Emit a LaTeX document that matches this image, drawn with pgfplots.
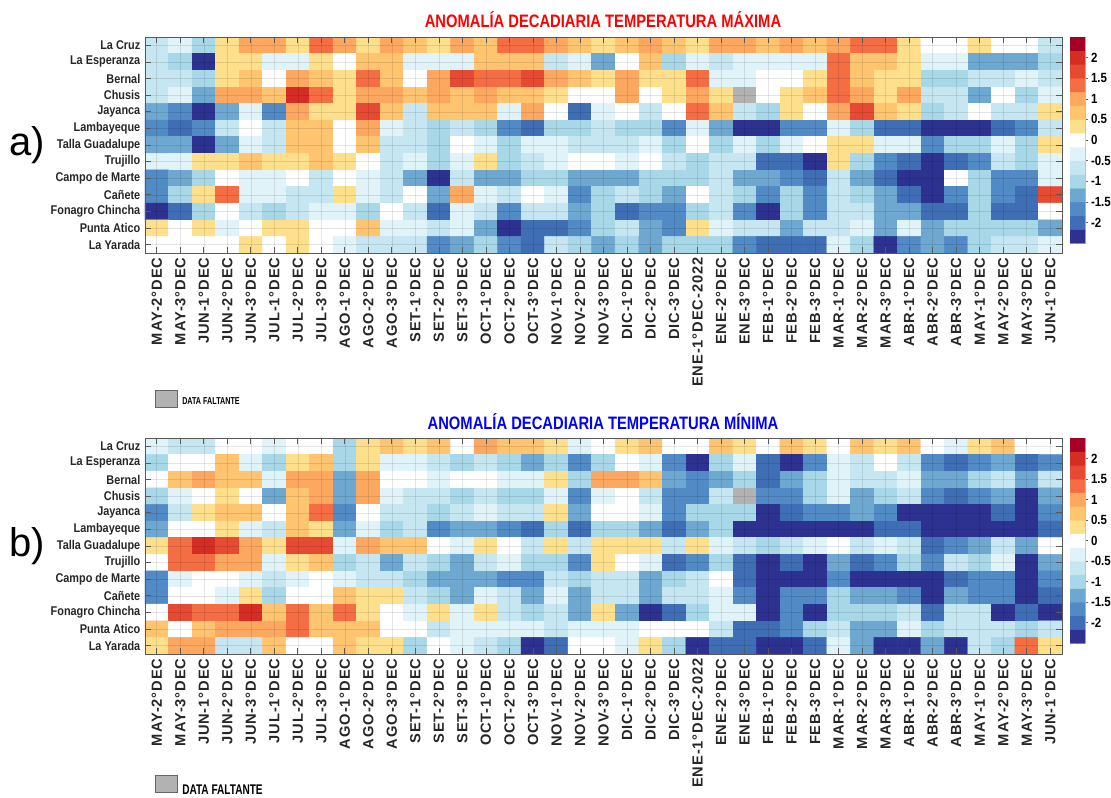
\documentclass[border=0pt]{standalone}
\usepackage{fontspec}
\setmainfont{Liberation Sans}
\newfontfamily\narrowfont[FakeStretch=0.86]{Liberation Sans}
\newfontfamily\titlefont[FakeStretch=0.82]{Liberation Sans}
\newfontfamily\tickfont[LetterSpace=6]{Liberation Sans}
\newfontfamily\legfont[FakeStretch=0.72]{Liberation Sans}
\usepackage{pgfplots}
\pgfplotsset{compat=1.18}
\usepackage{pgfplotstable}

% 15 anomaly classes of 1/3 degC (-2.5 .. 2.5) + grey for missing data (index 15)
\pgfplotsset{
  colormap={anom}{rgb255=(45,50,145) rgb255=(64,110,181) rgb255=(82,138,197) rgb255=(110,168,208) rgb255=(168,215,232) rgb255=(198,230,242) rgb255=(224,243,248) rgb255=(255,255,255) rgb255=(254,224,140) rgb255=(254,196,112) rgb255=(253,168,96) rgb255=(244,109,67) rgb255=(231,74,51) rgb255=(213,44,36) rgb255=(165,0,38) rgb255=(178,178,178)},
}

% Anomalies (degC), one line per station (La Cruz ... La Yarada), 39 dekads each; 99 = missing
\pgfplotstableread[row sep=\\]{
v\\
-0.7\\ -0.3\\ -1\\ 0.3\\ 1\\ 1\\ 0.3\\ 1.3\\ 1\\ 0.3\\ 1\\ 0.7\\ 0.3\\ 1\\ 0.7\\ 1.3\\ 1.3\\ 1\\ 0.7\\ 0.3\\ 0.7\\ 1\\ 0.7\\ 0.3\\ 1\\ 1\\ 0.7\\ 1\\ 0.7\\ 1\\ 1.3\\ 1.3\\ 0.3\\ 0\\ 0\\ 0.3\\ 0\\ 0\\ -0.7\\
-0.7\\ -1\\ -2.3\\ 0.3\\ 0.3\\ -0.3\\ -0.3\\ 0.3\\ 0\\ 0.7\\ 0.7\\ -0.3\\ -0.3\\ -0.3\\ 0.7\\ 0.7\\ 0.7\\ -0.7\\ -0.3\\ -1.3\\ 0\\ 0.7\\ -1\\ -0.3\\ -0.7\\ -0.3\\ -0.3\\ -0.3\\ -0.3\\ 1.3\\ 0.7\\ 0.7\\ 0.3\\ -0.3\\ -0.3\\ -1.3\\ -1.3\\ -1.3\\ -1\\
-0.7\\ -0.7\\ -1\\ 0.3\\ 0.7\\ 0\\ 1\\ 0.7\\ 0.3\\ 1.3\\ 0.7\\ 0\\ 1\\ 1.7\\ 1.3\\ 1.3\\ 1.7\\ 1\\ 0.7\\ 0.3\\ 1\\ 0.3\\ 0.3\\ 1.3\\ -0.3\\ -0.3\\ 0\\ 0\\ 0.3\\ 1.3\\ 0.7\\ 0.3\\ 0.3\\ -1\\ -1\\ -0.7\\ -0.7\\ -0.3\\ -0.7\\
-0.7\\ -0.3\\ -1.3\\ 1\\ 1\\ 0.7\\ 2\\ 1.3\\ 0.3\\ 1\\ 1\\ 0.7\\ 1\\ 0.7\\ 1\\ 0.7\\ 0.7\\ 0.3\\ 0\\ 0\\ 1\\ 0\\ 0.3\\ 1\\ 0.3\\ 99\\ 0\\ 0.3\\ 0.7\\ 1.3\\ 1\\ 0.3\\ 1\\ -0.7\\ -0.7\\ -1.3\\ 0\\ -1\\ -0.3\\
-1.3\\ -1.7\\ -2.3\\ -1.3\\ -0.3\\ -1.7\\ 1\\ 0.3\\ 0.3\\ 1.7\\ 0.7\\ -0.7\\ 0.7\\ 0.7\\ 0.7\\ -0.3\\ 1\\ 0\\ -2\\ -0.3\\ 0\\ -0.7\\ 0\\ 1.3\\ 0.7\\ -0.7\\ -1\\ 0.3\\ 0\\ 1\\ 1.7\\ 0.7\\ 0.3\\ -1\\ -0.7\\ 0\\ -0.7\\ -0.7\\ 0.3\\
-1.7\\ -2\\ -1.7\\ -0.7\\ 0\\ -0.7\\ 0.7\\ 0.7\\ 0\\ 1\\ -0.3\\ -0.7\\ -1\\ -0.7\\ -1\\ -1.7\\ -2\\ -1\\ -1\\ -0.7\\ -1\\ -1\\ -1.7\\ -0.3\\ -1.3\\ -2.3\\ -2.3\\ -1.7\\ -1.7\\ -0.3\\ -1\\ -2\\ -2\\ -2.3\\ -2.3\\ -2.3\\ -2\\ -1.7\\ -0.7\\
-1.3\\ -1.3\\ -2.3\\ -1.3\\ -0.3\\ -0.7\\ 0.7\\ 0.7\\ 0\\ 0.7\\ -0.7\\ -0.7\\ -1\\ 0\\ -0.3\\ -1\\ -0.3\\ -0.3\\ -0.7\\ -0.7\\ -0.7\\ -0.3\\ -1\\ 0\\ -1\\ -0.3\\ -1\\ -0.3\\ 0\\ 0.3\\ 0.3\\ -0.3\\ -0.3\\ -1.7\\ -1\\ -1\\ -0.3\\ -1\\ 0.3\\
-0.3\\ -0.3\\ 0.3\\ 0.3\\ 0.7\\ 0.3\\ 0.3\\ 0.7\\ 0.3\\ 0\\ -0.7\\ -0.3\\ -1\\ -0.3\\ 0.3\\ -1\\ -0.7\\ -0.3\\ 0\\ 0\\ -0.3\\ 0\\ -0.7\\ -1\\ -0.7\\ -0.7\\ -2\\ -2\\ -2.3\\ 0.3\\ -1\\ -1.7\\ -2\\ -2.3\\ -2\\ -1.7\\ -0.7\\ -1\\ -0.3\\
-1.7\\ -1.3\\ -1\\ 0\\ -0.3\\ -0.3\\ 0\\ -0.7\\ 0\\ -0.3\\ -0.7\\ -1.3\\ -2.3\\ -0.7\\ -1.3\\ -1.3\\ -1\\ -1\\ -1.3\\ -1.3\\ -1.3\\ -1\\ -1\\ -1\\ -0.7\\ -1.3\\ -1.3\\ -1.7\\ -2\\ -0.7\\ -1.3\\ -2\\ -2.3\\ -2.3\\ 0\\ -1\\ -1.7\\ -1.7\\ -0.3\\
-1.7\\ -1\\ 0.3\\ 1.3\\ -0.3\\ -0.3\\ -0.7\\ -0.7\\ 0.3\\ -0.3\\ -0.7\\ 0\\ -1.3\\ 1\\ -0.3\\ -0.7\\ 0\\ -0.3\\ -1.7\\ -1\\ -0.7\\ -1\\ -1.3\\ 0\\ -0.7\\ -1\\ -1.7\\ -1\\ -1.7\\ -0.7\\ -1\\ -1.3\\ -2\\ -2.3\\ -1.7\\ -1\\ -1.7\\ -2\\ 1.7\\
-2.3\\ -2\\ -1\\ 0\\ -0.7\\ -1\\ -0.7\\ -0.3\\ -0.3\\ -1\\ 0\\ -0.7\\ -2\\ -0.3\\ -0.7\\ -1.7\\ -0.7\\ -0.7\\ -1.3\\ -1\\ -2\\ -1.7\\ -1.7\\ -1\\ -0.7\\ -1.7\\ -2.3\\ -1\\ -1.7\\ -0.7\\ -0.7\\ -1.3\\ -1.3\\ -2\\ -2\\ -1\\ -2\\ -2\\ 0\\
0.3\\ 0\\ 0.3\\ -0.3\\ 0\\ 0.3\\ 0.3\\ 0\\ 0\\ 0.7\\ -0.3\\ -0.3\\ -0.7\\ -0.3\\ -1.3\\ -2.3\\ -2\\ -2\\ -1.7\\ -1\\ -0.7\\ -1.3\\ -1.7\\ 0.3\\ -0.3\\ -0.7\\ -0.7\\ -1.3\\ -0.7\\ -0.7\\ -0.3\\ -1.3\\ -0.3\\ -1.3\\ -1\\ -1\\ -1\\ -1\\ -1.3\\
0\\ 0\\ 0\\ 0\\ 0.3\\ 0\\ 0.3\\ 0\\ -0.3\\ -0.7\\ -0.7\\ -0.7\\ -1.7\\ -1.3\\ -1\\ -1.7\\ -2\\ -0.7\\ -1\\ -1.3\\ -1\\ -1.3\\ -1\\ -1\\ -1\\ -1.7\\ -2\\ -2\\ -2\\ -0.3\\ -1\\ -2.3\\ -1.7\\ -1.3\\ -1.7\\ -1\\ -0.7\\ -0.7\\ -0.3\\
}\tmax

\pgfplotstableread[row sep=\\]{
v\\
-0.3\\ -0.7\\ -0.7\\ 0\\ 0\\ -0.3\\ 0\\ 0\\ -1\\ 0.3\\ 0.7\\ 0.3\\ 0.7\\ 0\\ 1\\ 0.7\\ 0.7\\ 0.3\\ -0.3\\ 0\\ 0.3\\ 0.7\\ 0\\ 0\\ 0.7\\ 0.3\\ 0\\ 0.7\\ 0.3\\ 0\\ 0.7\\ 0.3\\ 0.7\\ 0\\ -0.3\\ 0.3\\ 0.7\\ 0\\ 0\\
-1\\ 0\\ 0\\ 0.7\\ -0.3\\ -1\\ 0.3\\ 0.7\\ -1\\ 0.3\\ -0.3\\ -0.3\\ -0.7\\ -1\\ -0.7\\ -1\\ -1.3\\ -1\\ -1.7\\ -1\\ 0\\ -0.3\\ -1.7\\ -2.3\\ -1\\ -0.3\\ -2\\ -2.3\\ -1.7\\ -0.3\\ -0.7\\ 0\\ -0.7\\ -1.7\\ -2\\ -1.7\\ -1.3\\ -2\\ -1.7\\
0\\ 0.7\\ 1\\ 0.7\\ 0.7\\ -0.3\\ 1\\ 1\\ -1.3\\ 1\\ 0\\ 0\\ -0.3\\ 0\\ 0\\ -0.3\\ -0.3\\ 0.3\\ -1\\ 1\\ 1\\ 0.7\\ -1.3\\ -1.7\\ -1.3\\ -1\\ -2\\ -1.3\\ -1\\ -0.3\\ -0.7\\ -0.7\\ -0.3\\ -1.3\\ -1.3\\ -1\\ -0.7\\ -1.3\\ -0.7\\
-1\\ -0.3\\ 0\\ 0.3\\ 0\\ -1.3\\ 0.7\\ 1\\ -1.3\\ 1\\ -0.3\\ -0.7\\ -0.7\\ -1\\ -0.7\\ -1\\ -1\\ -0.3\\ -1.7\\ -0.3\\ 0\\ -0.7\\ -1.7\\ -1.7\\ -0.7\\ 99\\ -1.7\\ -1.7\\ -1\\ -0.3\\ -1.3\\ -1\\ -0.7\\ -1.7\\ -2\\ -1.7\\ -1.3\\ -2.3\\ -1.3\\
-1.7\\ -0.7\\ 0.3\\ 0.7\\ 0.7\\ 0\\ 0.7\\ 1.3\\ -1.7\\ 0\\ -0.7\\ -0.7\\ -1\\ -0.7\\ -0.3\\ -0.7\\ -0.7\\ 0.3\\ -1.3\\ 0\\ 0\\ -0.3\\ -1.7\\ -1\\ -1\\ -1\\ -2.3\\ -2\\ -1.7\\ -1.7\\ -1.3\\ -1.7\\ -2.3\\ -2.3\\ -2.3\\ -2.3\\ -2\\ -2.3\\ -1.7\\
-1.3\\ 0\\ 0\\ 0.3\\ -0.3\\ -0.7\\ 0.7\\ 0.3\\ -1.3\\ -0.3\\ -1\\ -0.7\\ -1.7\\ -1.3\\ -1.3\\ -1.7\\ -2\\ -1\\ -2\\ -1\\ -1\\ -1.3\\ -2\\ -1.3\\ -1\\ -2.3\\ -2.3\\ -2.3\\ -2.3\\ -2.3\\ -2.3\\ -2\\ -2\\ -2.3\\ -2.3\\ -2.3\\ -2.3\\ -2.3\\ -2\\
0.3\\ 1.3\\ 2\\ 1.7\\ 1\\ 0.3\\ 1.7\\ 1.7\\ -0.3\\ 1\\ 0.7\\ 0.7\\ 0\\ -0.3\\ 0.3\\ 0\\ -0.7\\ 0.3\\ -0.7\\ 0.3\\ 0.3\\ 0.3\\ -0.7\\ 0.3\\ -0.3\\ -0.7\\ -1\\ -0.7\\ -0.3\\ 0\\ -0.7\\ -0.3\\ -0.7\\ -2\\ -1.7\\ -1.3\\ -0.7\\ -1.3\\ 0\\
0\\ 1.3\\ 1.3\\ 1\\ 1\\ -0.3\\ 0.3\\ 0.7\\ -1\\ -0.7\\ -1.3\\ -0.7\\ -1\\ -1.3\\ -0.7\\ -0.3\\ -1\\ -1\\ -1.7\\ 0.3\\ 0\\ -0.3\\ -2\\ -1.7\\ -1\\ -2\\ -2.3\\ -2\\ -2.3\\ -1.3\\ -2\\ -1.7\\ -1\\ -1.7\\ -0.7\\ -1\\ -0.3\\ -2.3\\ -1.3\\
-1.7\\ -0.3\\ 0\\ 0\\ -0.3\\ -0.7\\ -0.3\\ 0\\ -0.3\\ -0.7\\ -0.7\\ -1\\ -1.3\\ -1.3\\ -1.3\\ -1.7\\ -1.7\\ -0.7\\ -1\\ -0.7\\ -0.7\\ -1.3\\ -1\\ -0.7\\ 0\\ -2\\ -2.3\\ -2.3\\ -2.3\\ -1.7\\ -2.3\\ -2.3\\ -2.3\\ -2.3\\ -2\\ -1.7\\ -1.7\\ -2.3\\ -1.7\\
-1.7\\ 0\\ 0\\ -0.3\\ 0.3\\ -1\\ 0\\ 0\\ 0.7\\ 0.3\\ 0.3\\ -0.7\\ -1\\ -1.3\\ -0.3\\ -0.7\\ -1.3\\ -0.3\\ -1.3\\ -0.7\\ -0.7\\ -1.3\\ -0.7\\ -0.7\\ -0.3\\ -1.7\\ -2.3\\ -1.7\\ -1.7\\ -1\\ -1.3\\ -1.3\\ -1.7\\ -2.3\\ -1.3\\ -1.7\\ -1.7\\ -2.3\\ -2\\
0\\ 1.7\\ 1.3\\ 1.3\\ 2\\ 0.7\\ 1.3\\ 0.7\\ 1.3\\ 0.3\\ 0\\ -0.3\\ 0.3\\ -0.3\\ 0.3\\ -0.7\\ -1\\ -0.7\\ -1.3\\ 0.3\\ -1.3\\ -2.3\\ -2\\ -1\\ -0.3\\ -0.3\\ -2.3\\ -1.7\\ -2.3\\ -1\\ -1\\ -1\\ -0.7\\ -2\\ -0.7\\ -0.7\\ -2.3\\ -2\\ -2.3\\
0.7\\ 0\\ 0.7\\ 1\\ 1\\ 1\\ 1.3\\ 0.7\\ 0.7\\ 0.7\\ 0\\ 0\\ -0.7\\ -0.3\\ -0.3\\ -0.3\\ -0.3\\ -0.7\\ -0.3\\ -0.3\\ -0.3\\ 0\\ 0\\ 0\\ -0.7\\ -2\\ -2\\ -1.7\\ -1\\ -0.7\\ -1.3\\ -1.3\\ -0.3\\ -1\\ -0.7\\ -0.7\\ -0.7\\ -1\\ -0.7\\
0.3\\ 1\\ 1\\ -0.7\\ -0.7\\ 0.7\\ 0\\ 0\\ 0.7\\ 0.3\\ 0.3\\ -1\\ 0\\ -0.3\\ -0.7\\ -1\\ -2.3\\ -2\\ 0\\ 0\\ -0.3\\ 0.3\\ -1\\ -2.3\\ -2\\ -2\\ -2.3\\ -2.3\\ -2\\ -0.3\\ -1.3\\ -2.3\\ -2.3\\ -1.3\\ -2.3\\ -0.7\\ -1\\ 1.3\\ 0.3\\
}\tmin

\pgfplotsset{
  heat/.style={
    anchor=north west, scale only axis, width=687.75pt, height=162pt,
    xmin=-0.5, xmax=38.5, ymin=-0.5, ymax=12.5, y dir=reverse, enlargelimits=false,
    colormap name=anom, point meta min=0, point meta max=15,
    xtick={0,...,38}, ytick={0,...,12},
    xticklabels={MAY-2°DEC,MAY-3°DEC,JUN-1°DEC,JUN-2°DEC,JUN-3°DEC,JUL-1°DEC,JUL-2°DEC,JUL-3°DEC,AGO-1°DEC,AGO-2°DEC,AGO-3°DEC,SET-1°DEC,SET-2°DEC,SET-3°DEC,OCT-1°DEC,OCT-2°DEC,OCT-3°DEC,NOV-1°DEC,NOV-2°DEC,NOV-3°DEC,DIC-1°DEC,DIC-2°DEC,DIC-3°DEC,ENE-1°DEC-2022,ENE-2°DEC,ENE-3°DEC,FEB-1°DEC,FEB-2°DEC,FEB-3°DEC,MAR-1°DEC,MAR-2°DEC,MAR-3°DEC,ABR-1°DEC,ABR-2°DEC,ABR-3°DEC,MAY-1°DEC,MAY-2°DEC,MAY-3°DEC,JUN-1°DEC},
    yticklabels={La Cruz,La Esperanza,Bernal,Chusis,Jayanca,Lambayeque,Talla Guadalupe,Trujillo,Campo de Marte,Cañete,Fonagro Chincha,Punta Atico,La Yarada},
    x tick label style={rotate=90, anchor=east, font=\tickfont\bfseries\fontsize{11}{11}\selectfont, text=black!85},
    y tick label style={font=\narrowfont\bfseries\fontsize{9.5}{9.5}\selectfont, text=black!85},
    tick align=inside, major tick length=4.5pt,
    tick style={black!65, line width=0.6pt},
    axis line style={black!65, line width=0.6pt},
    axis on top, grid=major, grid style={black, opacity=0.1, line width=0.4pt},
  },
  cbar/.style={
    anchor=north west, scale only axis, width=11.25pt,
    xmin=-0.5, xmax=1.5, ymin=-2.5, ymax=2.5, enlargelimits=false,
    colormap name=anom, point meta min=0, point meta max=15,
    xtick=\empty, ytick={-2,-1.5,-1,-0.5,0,0.5,1,1.5,2},
    yticklabels={-2,-1.5,-1,-0.5,0,0.5,1,1.5,2},
    ytick pos=right, yticklabel pos=right, tick align=outside, major tick length=2pt,
    tick style={black!60}, axis line style={black!25},
    y tick label style={font=\narrowfont\bfseries\fontsize{10}{10}\selectfont, xshift=-1pt},
  },
}

\newcommand{\heatplot}[1]{%
  \addplot[matrix plot*, mesh/cols=39, point meta=explicit]
    table[x index=0, y index=0,
          x expr={\coordindex-39*floor((\coordindex+0.5)/39)},
          y expr={floor((\coordindex+0.5)/39)},
          meta expr={ifthenelse(\thisrow{v}>9,15,round(3*\thisrow{v})+7)}] {#1};
}
\newcommand{\cbarplot}{%
  \addplot[matrix plot*, mesh/cols=2, point meta=explicit] coordinates {
    (0,-2.3333)[0] (1,-2.3333)[0] (0,-2)[1] (1,-2)[1] (0,-1.6667)[2] (1,-1.6667)[2]
    (0,-1.3333)[3] (1,-1.3333)[3] (0,-1)[4] (1,-1)[4] (0,-0.6667)[5] (1,-0.6667)[5]
    (0,-0.3333)[6] (1,-0.3333)[6] (0,0)[7] (1,0)[7] (0,0.3333)[8] (1,0.3333)[8]
    (0,0.6667)[9] (1,0.6667)[9] (0,1)[10] (1,1)[10] (0,1.3333)[11] (1,1.3333)[11]
    (0,1.6667)[12] (1,1.6667)[12] (0,2)[13] (1,2)[13] (0,2.3333)[14] (1,2.3333)[14]
  };
}

\begin{document}
\begin{tikzpicture}
\useasboundingbox (0,0) rectangle (833.25pt,-597.75pt);

% ---- panel a
\begin{axis}[heat, at={(108.75pt,-27.75pt)}]
\heatplot{\tmax}
\end{axis}
\begin{axis}[cbar, at={(802.5pt,-27.75pt)}, height=154.5pt]
\cbarplot
\end{axis}
\node[font=\titlefont\bfseries\fontsize{13.5}{13.5}\selectfont, text=red] at (452.25pt,-15pt) {ANOMALÍA DECADIARIA TEMPERATURA MÁXIMA};
\node[font=\fontsize{30}{30}\selectfont] at (20.25pt,-108.75pt) {a)};
\draw[black!60, fill=black!30, line width=0.5pt] (116.25pt,-292.5pt) rectangle (132.75pt,-305.25pt);
\node[anchor=west, font=\legfont\bfseries\fontsize{7.5}{7.5}\selectfont, inner sep=0pt] at (136.5pt,-301pt) {DATA FALTANTE};

% ---- panel b
\begin{axis}[heat, at={(108.75pt,-328.5pt)}]
\heatplot{\tmin}
\end{axis}
\begin{axis}[cbar, at={(802.5pt,-328.5pt)}, height=153.75pt]
\cbarplot
\end{axis}
\node[font=\titlefont\bfseries\fontsize{13.5}{13.5}\selectfont, text=blue] at (452.25pt,-316.5pt) {ANOMALÍA DECADIARIA TEMPERATURA MÍNIMA};
\node[font=\fontsize{30}{30}\selectfont] at (20.25pt,-409.5pt) {b)};
\draw[black!60, fill=black!30, line width=0.5pt] (116.25pt,-581.25pt) rectangle (132.75pt,-594pt);
\node[anchor=west, font=\legfont\bfseries\fontsize{10.5}{10.5}\selectfont, inner sep=0pt] at (136.5pt,-592.5pt) {DATA FALTANTE};
\end{tikzpicture}
\end{document}
